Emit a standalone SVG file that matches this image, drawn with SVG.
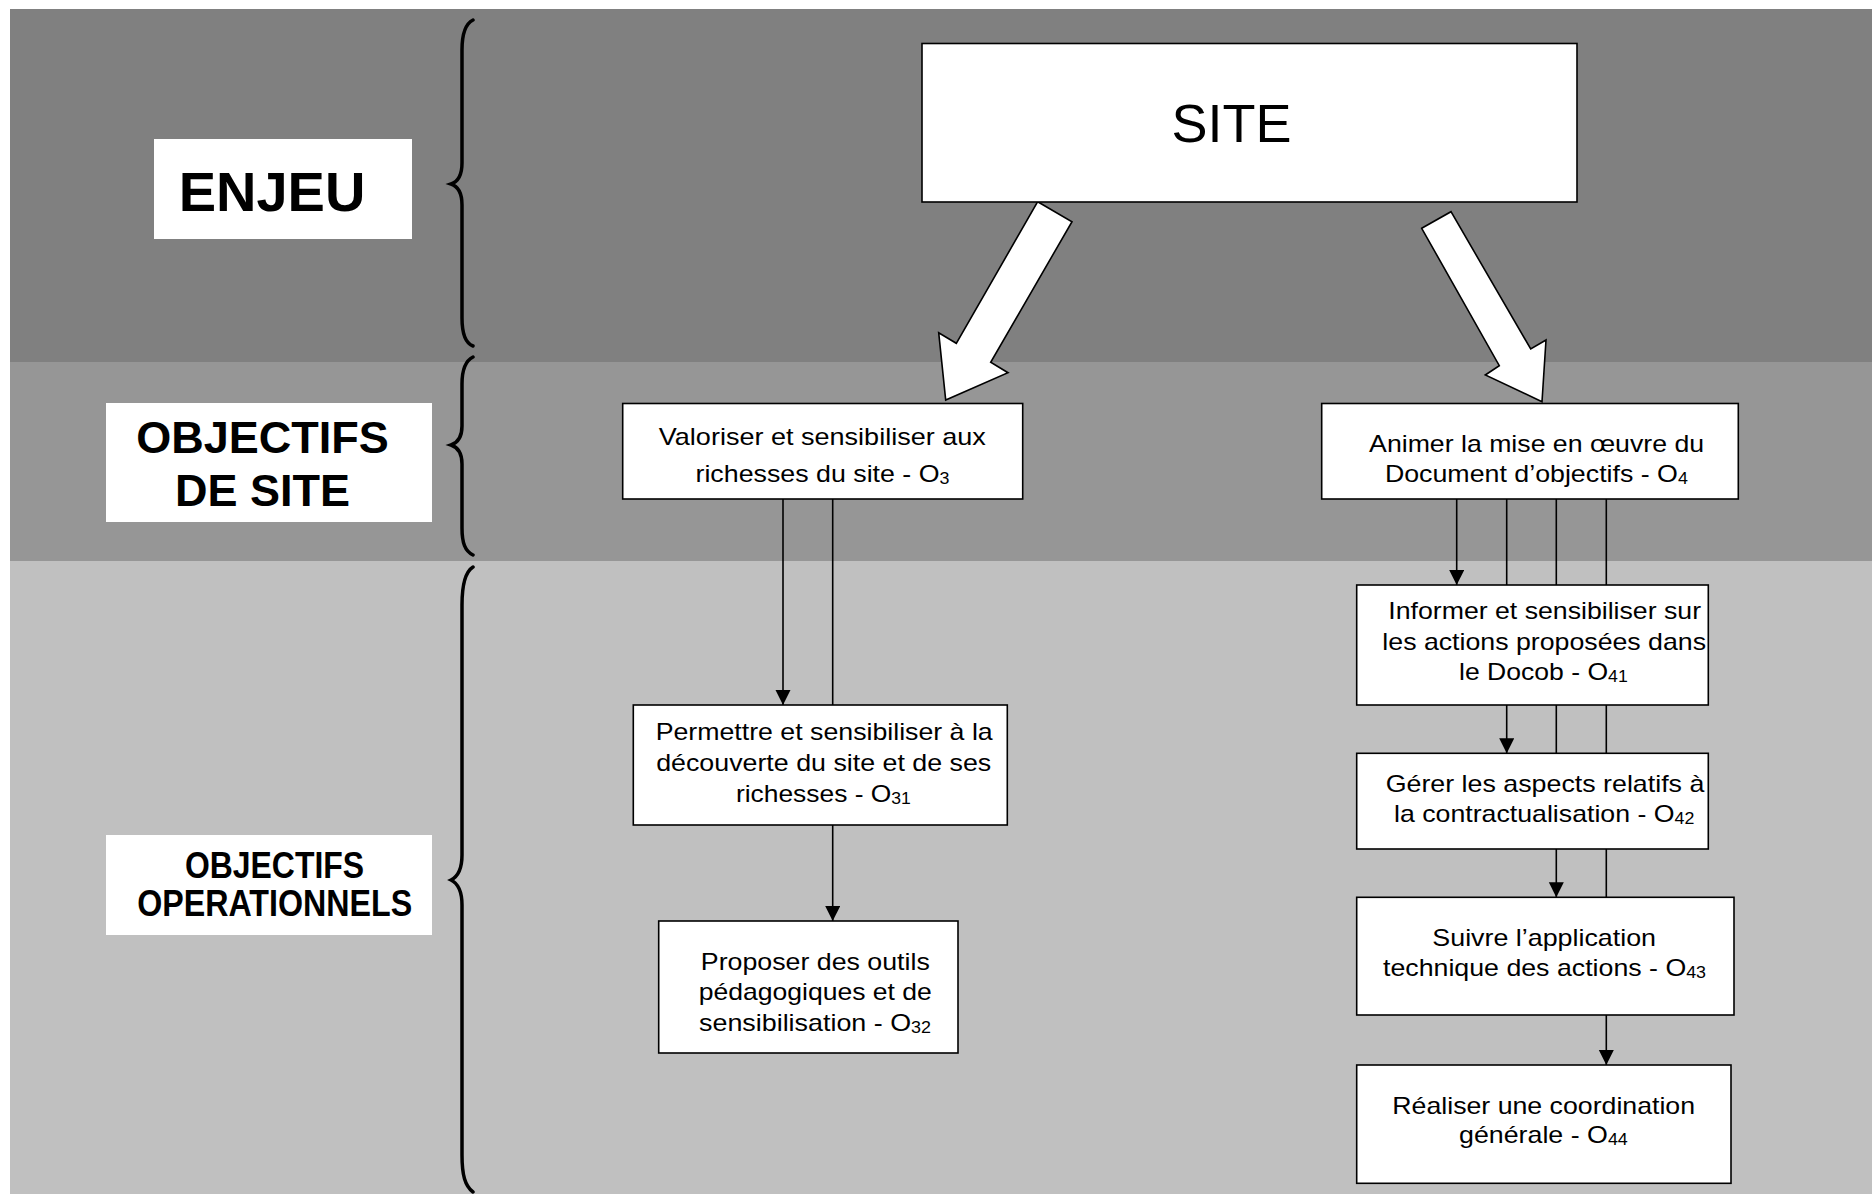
<svg xmlns="http://www.w3.org/2000/svg" width="1872" height="1194" viewBox="0 0 1872 1194">
<style>
.box{fill:#fff;stroke:#000;stroke-width:1.6}
.lab{fill:#fff;stroke:none}
.t{font-family:"Liberation Sans",Arial,sans-serif;font-size:24px;fill:#000;text-anchor:middle}
.b{font-family:"Liberation Sans",Arial,sans-serif;font-weight:bold;fill:#000;text-anchor:middle}
.sub{font-size:16px}
.ln{stroke:#000;stroke-width:1.6;fill:none}
.ar{stroke:#000;stroke-width:1.6;fill:none;marker-end:url(#ah)}
.big{fill:#fff;stroke:#000;stroke-width:1.6;stroke-linejoin:miter}
.brace{fill:none;stroke:#000;stroke-width:3.5;stroke-linecap:round}
</style>
<defs>
<marker id="ah" markerWidth="15" markerHeight="16" refX="15" refY="7.5" orient="auto" markerUnits="userSpaceOnUse">
<path d="M0,0 L15,7.5 L0,15 Z" fill="#000"/>
</marker>
</defs>
<rect x="0" y="0" width="1872" height="1194" fill="#fff"/>
<g id="bands">
<rect x="10" y="9" width="1862" height="353" fill="#808080"/>
<rect x="10" y="362" width="1862" height="199" fill="#969696"/>
<rect x="10" y="561" width="1862" height="633" fill="#c0c0c0"/>
</g>
<g id="braces">
<path class="brace" d="M473,20 C465,24 462,34 462,50 L462,163 C462,176 457,182 451,184 C457,186 462,192 462,205 L462,318 C462,334 465,343 473,346"/>
<path class="brace" d="M473,357 C465,361 462,370 462,384 L462,426 C462,438 457,443 451,445 C457,447 462,452 462,464 L462,528 C462,543 465,551 473,555"/>
<path class="brace" d="M473,567 C465,572 462,585 462,605 L462,855 C462,870 457,877 451,880 C457,883 462,890 462,905 L462,1155 C462,1175 465,1186 473,1192"/>
</g>
<g id="connectors">
<polygon class="big" points="1037.7,201.7 1072,221.7 990.7,362.3 1008,372.7 945.7,400 938.7,332.7 956.3,343.3"/>
<polygon class="big" points="1421.7,228.3 1451,211.7 1530.7,349 1546,340 1542,401.7 1485.3,375 1499.3,365.7"/>
<line class="ar" x1="783" y1="499" x2="783" y2="705"/>
<line class="ln" x1="832.7" y1="499" x2="832.7" y2="705"/>
<line class="ar" x1="832.7" y1="825" x2="832.7" y2="921"/>
<line class="ar" x1="1456.7" y1="499" x2="1456.7" y2="585"/>
<line class="ln" x1="1506.7" y1="499" x2="1506.7" y2="585"/>
<line class="ar" x1="1506.7" y1="705" x2="1506.7" y2="753.3"/>
<line class="ln" x1="1556.3" y1="499" x2="1556.3" y2="753.3"/>
<line class="ar" x1="1556.3" y1="849" x2="1556.3" y2="897.3"/>
<line class="ln" x1="1606.3" y1="499" x2="1606.3" y2="897.3"/>
<line class="ar" x1="1606.3" y1="1015" x2="1606.3" y2="1065"/>
</g>
<g id="label-enjeu">
<rect class="lab" x="154" y="139" width="258" height="100"/>
<text class="b" x="272" y="210.5" font-size="56">ENJEU</text>
</g>
<g id="label-objectifs-site">
<rect class="lab" x="106" y="403" width="326" height="119"/>
<text class="b" x="262.6" y="452.7" font-size="45">OBJECTIFS</text>
<text class="b" x="262.6" y="506" font-size="45">DE SITE</text>
</g>
<g id="label-objectifs-op">
<rect class="lab" x="106" y="835" width="326" height="100"/>
<text class="b" x="274.5" y="877.5" font-size="37" textLength="179" lengthAdjust="spacingAndGlyphs">OBJECTIFS</text>
<text class="b" x="274.7" y="915.5" font-size="37" textLength="275" lengthAdjust="spacingAndGlyphs">OPERATIONNELS</text>
</g>
<g id="node-site">
<rect class="box" x="922" y="43.5" width="655" height="158.5"/>
<text class="t" x="1231.5" y="141.5" style="font-size:54px">SITE</text>
</g>
<g id="node-o3">
<rect class="box" x="622.7" y="403.5" width="400" height="95.5"/>
<text class="t" x="822.3" y="445" textLength="327" lengthAdjust="spacingAndGlyphs">Valoriser et sensibiliser aux</text>
<text class="t" x="822.5" y="481.7" textLength="254" lengthAdjust="spacingAndGlyphs">richesses du site - O<tspan class="sub" dy="2">3</tspan></text>
</g>
<g id="node-o4">
<rect class="box" x="1321.7" y="403.5" width="416.6" height="95.5"/>
<text class="t" x="1536.6" y="451.7" textLength="335" lengthAdjust="spacingAndGlyphs">Animer la mise en œuvre du</text>
<text class="t" x="1536.4" y="481.7" textLength="303" lengthAdjust="spacingAndGlyphs">Document d’objectifs - O<tspan class="sub" dy="2">4</tspan></text>
</g>
<g id="node-o31">
<rect class="box" x="633.3" y="705" width="374" height="120"/>
<text class="t" x="824.2" y="740" textLength="337" lengthAdjust="spacingAndGlyphs">Permettre et sensibiliser à la</text>
<text class="t" x="823.7" y="770.7" textLength="335" lengthAdjust="spacingAndGlyphs">découverte du site et de ses</text>
<text class="t" x="823.4" y="801.7" textLength="175" lengthAdjust="spacingAndGlyphs">richesses - O<tspan class="sub" dy="2">31</tspan></text>
</g>
<g id="node-o32">
<rect class="box" x="658.7" y="921" width="299.3" height="132"/>
<text class="t" x="815.3" y="969.5" textLength="229" lengthAdjust="spacingAndGlyphs">Proposer des outils</text>
<text class="t" x="815.3" y="1000" textLength="233" lengthAdjust="spacingAndGlyphs">pédagogiques et de</text>
<text class="t" x="815" y="1030.5" textLength="232" lengthAdjust="spacingAndGlyphs">sensibilisation - O<tspan class="sub" dy="2">32</tspan></text>
</g>
<g id="node-o41">
<rect class="box" x="1356.7" y="585" width="351.6" height="120"/>
<text class="t" x="1544.7" y="619.3" textLength="312.7" lengthAdjust="spacingAndGlyphs">Informer et sensibiliser sur</text>
<text class="t" x="1544.2" y="650" textLength="323.7" lengthAdjust="spacingAndGlyphs">les actions proposées dans</text>
<text class="t" x="1543.4" y="680" textLength="168.7" lengthAdjust="spacingAndGlyphs">le Docob - O<tspan class="sub" dy="2">41</tspan></text>
</g>
<g id="node-o42">
<rect class="box" x="1356.7" y="753.3" width="351.6" height="95.7"/>
<text class="t" x="1545" y="791.7" textLength="318.7" lengthAdjust="spacingAndGlyphs">Gérer les aspects relatifs à</text>
<text class="t" x="1544.2" y="821.7" textLength="300.3" lengthAdjust="spacingAndGlyphs">la contractualisation - O<tspan class="sub" dy="2">42</tspan></text>
</g>
<g id="node-o43">
<rect class="box" x="1356.7" y="897.3" width="377.3" height="117.7"/>
<text class="t" x="1544.2" y="946" textLength="223.7" lengthAdjust="spacingAndGlyphs">Suivre l’application</text>
<text class="t" x="1544.5" y="976" textLength="323" lengthAdjust="spacingAndGlyphs">technique des actions - O<tspan class="sub" dy="2">43</tspan></text>
</g>
<g id="node-o44">
<rect class="box" x="1356.7" y="1065" width="374.3" height="118.3"/>
<text class="t" x="1543.7" y="1114" textLength="302.7" lengthAdjust="spacingAndGlyphs">Réaliser une coordination</text>
<text class="t" x="1543.4" y="1143.3" textLength="168.7" lengthAdjust="spacingAndGlyphs">générale - O<tspan class="sub" dy="2">44</tspan></text>
</g>
</svg>
